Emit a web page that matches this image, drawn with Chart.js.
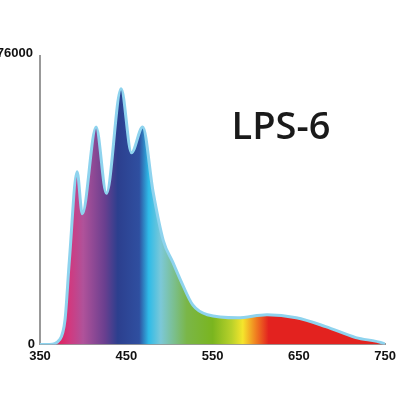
<!DOCTYPE html><html><head><style>html,body{margin:0;background:#fff}#c{width:400px;height:400px}</style>
<script src="https://cdn.jsdelivr.net/npm/chart.js@4"></script></head><body><div id="c"><canvas id="cv"></canvas></div>
<script>
const wavelengths=[350,361,373,379,384,393,399,415,427,444,456,469,481,493,504,513,527,544,579,613,647,681,716,748,750];
const intensity=[0,0,1300,6500,22000,45500,34400,57300,39800,67400,50500,57300,40300,27300,21600,16900,10400,7800,7000,7800,7000,4700,1800,260,0];
const xTicks=[350,450,550,650,750];
const yTicks=[0,76000];
const title="LPS-6";
const stops=[[365,'#e8174f'],[385,'#d03a80'],[400,'#b0529a'],[425,'#6a3f8f'],[440,'#2c3f8e'],[465,'#2f4fa0'],[476,'#2ebbe8'],[490,'#7cc8d8'],[520,'#7ab648'],[550,'#7ab51f'],[572,'#b9d12a'],[585,'#f5e52c'],[600,'#f08020'],[615,'#e3221f'],[750,'#e3221f']];
const font='"Liberation Sans", Arial, sans-serif';
const overlay={id:'ov',afterDraw(ch){const c=ch.ctx,y=ch.scales.y,a=ch.chartArea;c.save();c.fillStyle='#111';c.font='bold 13px '+font;c.textAlign='right';c.textBaseline='middle';
yTicks.forEach(v=>{c.fillText(String(v),a.left-5+(v?-2:0),y.getPixelForValue(v)-(v?3:0));});
c.font='600 38px "Open Sans", sans-serif';c.textAlign='center';c.fillStyle='#1a1a1a';c.fillText(title,281,128);c.restore();}};
new Chart(document.getElementById('cv'),{type:'line',data:{datasets:[{data:wavelengths.map((w,i)=>({x:w,y:intensity[i]})),fill:'origin',tension:0.4,cubicInterpolationMode:'monotone',pointRadius:0,borderColor:'#8ed3ee',borderWidth:3,
backgroundColor(ctx){const ch=ctx.chart;if(!ch.chartArea)return '#888';const xs=ch.scales.x;const l=xs.getPixelForValue(350),r=xs.getPixelForValue(750);const g=ch.ctx.createLinearGradient(l,0,r,0);stops.forEach(s=>g.addColorStop((s[0]-350)/400,s[1]));return g;}}]},
options:{responsive:true,maintainAspectRatio:false,animation:false,layout:{padding:{left:32,right:10,top:56,bottom:32}},plugins:{legend:{display:false},tooltip:{enabled:false}},
scales:{x:{type:'linear',min:350,max:750,afterBuildTicks(s){s.ticks=xTicks.map(v=>({value:v}));},grid:{display:false,drawTicks:true,tickLength:0},border:{color:'#999',width:2},ticks:{color:'#111',font:{family:font,weight:'bold',size:13},padding:4,maxRotation:0}},
y:{min:0,max:76000,afterBuildTicks(s){s.ticks=yTicks.map(v=>({value:v}));},grid:{display:false},border:{color:'#999',width:2},ticks:{display:false}}}},plugins:[overlay]});
</script></body></html>
